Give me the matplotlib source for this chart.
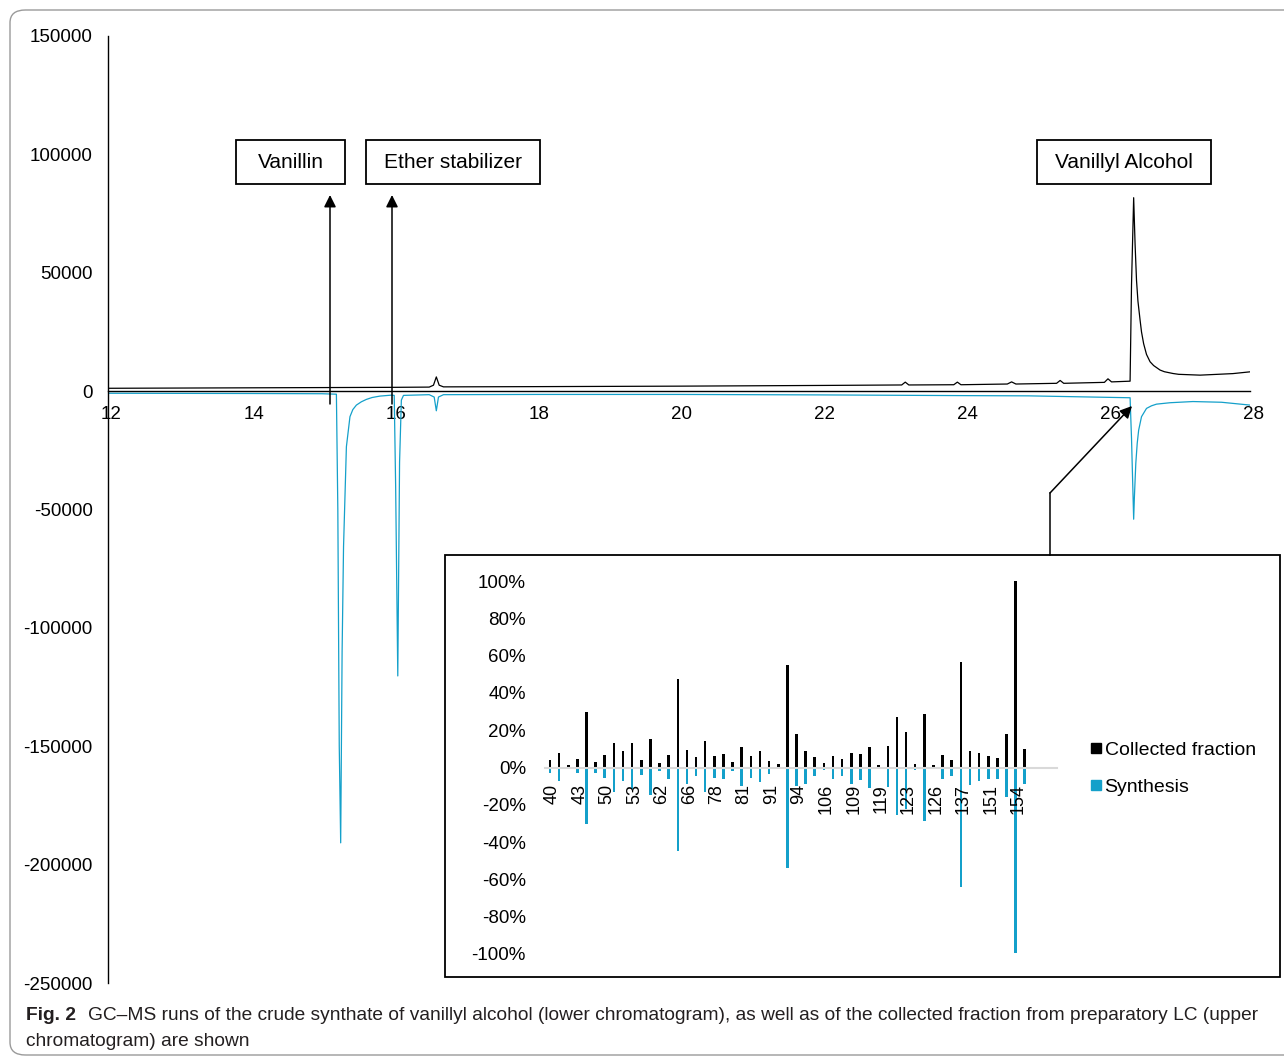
import matplotlib
matplotlib.use("Agg")
import matplotlib.pyplot as plt
from matplotlib.patches import Rectangle, FancyArrowPatch, FancyBboxPatch, ArrowStyle
from matplotlib.lines import Line2D
import matplotlib.transforms as mtransforms

plt.rcParams['font.family'] = ['Liberation Sans', 'DejaVu Sans']

# ---------------- data ----------------
# upper chromatogram (collected fraction), retention time (min) vs abundance
upper_time = [12.0, 13.0, 14.0, 15.0, 16.0, 16.5, 16.56, 16.6, 16.64, 16.7, 18.0, 20.0, 22.0,
              23.12, 23.17, 23.22, 23.85, 23.9, 23.95, 24.6, 24.66, 24.72, 25.29, 25.34, 25.39,
              25.96, 26.01, 26.06, 26.32, 26.34, 26.37, 26.39, 26.41, 26.43, 26.46, 26.48,
              26.51, 26.55, 26.60, 26.65, 26.74, 26.8, 26.92, 27.0, 27.3, 27.76, 28.0]
upper_int = [1200, 1300, 1400, 1500, 1600, 1700, 2500, 6000, 2500, 1800, 1900, 2100, 2400,
             2600, 3800, 2600, 2700, 3800, 2700, 3000, 3900, 3000, 3300, 4500, 3300,
             3700, 5200, 3900, 4200, 45000, 81700, 62000, 46800, 38000, 30000, 25000,
             20000, 15500, 12400, 10800, 8900, 8200, 7450, 7100, 6750, 7400, 8150]

# lower chromatogram (synthesis), plotted inverted
lower_time = [12.0, 14.0, 15.0, 15.2, 15.22, 15.24, 15.26, 15.28, 15.30, 15.34, 15.39, 15.43,
              15.48, 15.55, 15.62, 15.70, 15.81, 15.97, 16.01, 16.03, 16.06, 16.085, 16.11,
              16.14, 16.5, 16.57, 16.60, 16.63, 16.7, 18.0, 20.0, 22.0, 24.0, 24.9, 26.32,
              26.34, 26.37, 26.38, 26.40, 26.42, 26.44, 26.48, 26.55, 26.62, 26.69, 26.88,
              27.2, 27.6, 28.0]
lower_int = [-900, -1000, -1100, -1300, -50000, -150000, -190800, -110000, -65700, -23500,
             -10800, -7800, -5900, -4500, -3500, -2700, -2100, -1700, -1800, -40000, -120300,
             -30000, -3800, -1800, -1500, -2500, -8300, -2500, -1500, -1400, -1400, -1600,
             -1900, -2000, -2800, -20000, -54100, -45000, -30500, -22000, -16500, -10800,
             -7300, -6200, -5500, -4900, -4400, -4700, -5900]

x_ticks = [12, 14, 16, 18, 20, 22, 24, 26, 28]
y_ticks = [150000, 100000, 50000, 0, -50000, -100000, -150000, -200000, -250000]

# inset mass spectrum (% relative abundance), 53 m/z channels
collected = [3.9, 7.7, 1.4, 4.5, 29.6, 2.7, 6.8, 13.4, 8.9, 13.0,
             4.1, 15.2, 2.5, 6.8, 47.5, 9.5, 5.4, 14.1, 5.9, 7.3,
             3.0, 11.1, 6.4, 9.1, 3.6, 1.8, 54.8, 18.0, 9.1, 5.4,
             2.3, 6.3, 4.3, 8.0, 7.3, 10.9, 1.3, 11.3, 27.1, 19.1,
             1.8, 28.8, 1.1, 6.8, 3.9, 56.8, 9.1, 7.7, 6.1, 5.0,
             17.7, 100.0, 9.8]
synthesis = [-3.2, -7.5, -0.3, -2.7, -30.2, -3.2, -5.6, -13.4, -7.5, -11.6,
             -3.9, -14.8, -1.8, -6.3, -44.9, -8.6, -4.5, -13.4, -5.7, -6.3,
             -2.1, -9.8, -5.7, -8.0, -3.6, -0.9, -54.0, -10.0, -9.1, -4.6,
             -1.5, -6.0, -4.3, -8.6, -6.5, -10.9, -1.0, -10.5, -25.3, -22.5,
             -1.6, -28.8, -1.0, -6.0, -4.3, -64.0, -9.6, -7.3, -6.0, -6.0,
             -16.0, -99.7, -9.1]
mz_labels = ['40', '43', '50', '53', '62', '66', '78', '81', '91', '94', '106', '109',
             '119', '123', '126', '137', '151', '154']
pct_ticks = [100, 80, 60, 40, 20, 0, -20, -40, -60, -80, -100]

BLUE = '#14A0CA'
W, H = 1284, 1061

def fx(px):
    return px / W

def fy(py):
    return 1 - py / H

fig = plt.figure(figsize=(W / 100, H / 100), dpi=100)

# outer rounded frame
frame = FancyBboxPatch((fx(10), fy(1055)), fx(1300) - fx(10), fy(10) - fy(1055),
                       boxstyle="round,pad=0,rounding_size=0.012", transform=fig.transFigure,
                       fill=False, ec='#9a9a9a', lw=1.0)
fig.add_artist(frame)

# ---------------- main chromatogram axes ----------------
ax = fig.add_axes([fx(108), fy(983), fx(1250) - fx(108), fy(36) - fy(983)])
ax.set_xlim(12, 28)
ax.set_ylim(-250000, 150000)
ax.plot(upper_time, upper_int, color='black', lw=0.9)
ax.plot(lower_time, lower_int, color=BLUE, lw=0.9)
for s in ['top', 'right']:
    ax.spines[s].set_visible(False)
ax.spines['bottom'].set_position(('data', 0))
ax.spines['bottom'].set_linewidth(1.0)
ax.spines['left'].set_linewidth(1.0)
ax.set_xticks(x_ticks)
ax.set_xticklabels([str(v) for v in x_ticks], fontsize=13.5)
ax.set_yticks(y_ticks)
ax.set_yticklabels([str(v) for v in y_ticks], fontsize=13.5)
ax.tick_params(axis='x', length=0, pad=11)
ax.tick_params(axis='y', length=0, pad=11)
off = mtransforms.ScaledTranslation(3 / 100, 0, fig.dpi_scale_trans)
for lab in ax.get_xticklabels():
    lab.set_transform(lab.get_transform() + off)

# annotation boxes
def label_box(x0, y0, x1, y1, text):
    fig.add_artist(Rectangle((fx(x0), fy(y1)), fx(x1) - fx(x0), fy(y0) - fy(y1),
                             transform=fig.transFigure, fill=False, ec='black', lw=1.3))
    fig.text(fx((x0 + x1) / 2), fy((y0 + y1) / 2), text, ha='center', va='center',
             fontsize=15)

label_box(236, 140, 345, 184, 'Vanillin')
label_box(366, 140, 540, 184, 'Ether stabilizer')
label_box(1037, 140, 1211, 184, 'Vanillyl Alcohol')

astyle = ArrowStyle('-|>', head_length=0.5, head_width=0.25)
def arrow(x0, y0, x1, y1):
    fig.add_artist(FancyArrowPatch((fx(x0), fy(y0)), (fx(x1), fy(y1)), transform=fig.transFigure,
                                   arrowstyle=astyle, mutation_scale=14.4, color='black',
                                   lw=1.1, shrinkA=0, shrinkB=0))

arrow(330, 404, 330, 195)
arrow(392, 404, 392, 195)
fig.add_artist(Line2D([fx(1050), fx(1050)], [fy(555), fy(493)], transform=fig.transFigure,
                      color='black', lw=1.1))
arrow(1050, 493, 1132, 406)

# ---------------- inset mass spectrum ----------------
fig.add_artist(Rectangle((fx(445), fy(977)), fx(1280) - fx(445), fy(555) - fy(977),
                         transform=fig.transFigure, fill=False, ec='black', lw=1.3))
ax_in = fig.add_axes([fx(545.4), fy(954), fx(1056.7) - fx(545.4), fy(581) - fy(954)])
ax_in.set_facecolor('none')
xs = list(range(len(collected)))
ax_in.bar(xs, collected, width=0.28, color='black', label='Collected fraction')
ax_in.bar(xs, synthesis, width=0.28, color=BLUE, label='Synthesis')
ax_in.set_xlim(-0.5, 55.5)
ax_in.set_ylim(-100, 100)
for s in ['top', 'right', 'left']:
    ax_in.spines[s].set_visible(False)
ax_in.spines['bottom'].set_position(('data', 0))
ax_in.spines['bottom'].set_color('#d9d9d9')
ax_in.spines['bottom'].set_linewidth(1.5)
ax_in.set_xticks(list(range(0, 3 * len(mz_labels), 3)))
ax_in.set_xticklabels(mz_labels, rotation=90, fontsize=13)
ax_in.set_yticks(pct_ticks)
ax_in.set_yticklabels([f'{v}%' for v in pct_ticks], fontsize=13.5)
ax_in.tick_params(axis='x', length=0, pad=12)
ax_in.tick_params(axis='y', length=0, pad=14)
off2 = mtransforms.ScaledTranslation(2.5 / 100, 0, fig.dpi_scale_trans)
for lab in ax_in.get_xticklabels():
    lab.set_transform(lab.get_transform() + off2)

handles = [Line2D([], [], marker='s', ls='none', color='black', markersize=7),
           Line2D([], [], marker='s', ls='none', color=BLUE, markersize=7)]
ax_in.legend(handles, ['Collected fraction', 'Synthesis'], loc='upper left',
             bbox_to_anchor=(fx(1090), fy(741)), bbox_transform=fig.transFigure,
             frameon=False, fontsize=14, handlelength=0.6, handletextpad=0.15,
             labelspacing=1.0, borderpad=0, borderaxespad=0)

# ---------------- caption ----------------
cap_font = ['Liberation Sans Narrow', 'Liberation Sans', 'DejaVu Sans']
fig.text(fx(26), fy(1016), 'Fig. 2', fontsize=13.8, weight='bold', family=cap_font,
         va='center', ha='left', color='#231f20')
fig.text(fx(88), fy(1016),
         'GC–MS runs of the crude synthate of vanillyl alcohol (lower chromatogram), as well as of '
         'the collected fraction from preparatory LC (upper',
         fontsize=13.8, family=cap_font, va='center', ha='left', color='#231f20')
fig.text(fx(26), fy(1042), 'chromatogram) are shown', fontsize=13.8, family=cap_font,
         va='center', ha='left', color='#231f20')

fig.savefig('out.png', dpi=100)
